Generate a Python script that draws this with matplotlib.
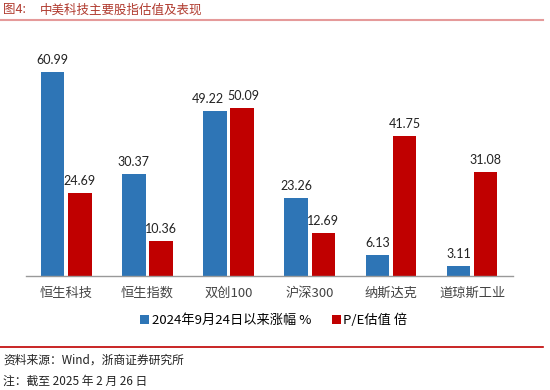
import matplotlib
matplotlib.use("Agg")
import matplotlib.pyplot as plt
import numpy as np
from matplotlib.lines import Line2D

plt.rcParams['font.family'] = ['Noto Sans CJK SC', 'DejaVu Sans']

categories = ['恒生科技', '恒生指数', '双创100', '沪深300', '纳斯达克', '道琼斯工业']
rise = [60.99, 30.37, 49.22, 23.26, 6.13, 3.11]
pe = [24.69, 10.36, 50.09, 12.69, 41.75, 31.08]
series_names = ['2024年9月24日以来涨幅 %', 'P/E估值 倍']

blue = '#2e75b6'
red = '#c00000'

fig = plt.figure(figsize=(5.5, 3.9), dpi=100)
ax = fig.add_axes([25.7/550, 114/390, 487/550, 234.5/390])

x = np.arange(len(categories))
w = 0.29
b1 = ax.bar(x - 0.167, rise, w, color=blue, label=series_names[0])
b2 = ax.bar(x + 0.167, pe, w, color=red, label=series_names[1])

for i, (b, v) in enumerate(zip(b1, rise)):
    # nudge left when the neighbouring label sits at nearly the same height
    dx = -0.09 if abs(v - pe[i]) < 4 else 0
    ax.text(b.get_x() + b.get_width()/2 + dx, v + 1.8, f'{v:.2f}',
            ha='center', va='bottom', fontsize=9, family=['Lato', 'DejaVu Sans'], color='#222222')
for i, (b, v) in enumerate(zip(b2, pe)):
    dx = 0.02 if abs(v - rise[i]) < 4 else 0
    ax.text(b.get_x() + b.get_width()/2 + dx, v + 1.8, f'{v:.2f}',
            ha='center', va='bottom', fontsize=9, family=['Lato', 'DejaVu Sans'], color='#222222')

ax.set_xlim(-0.5, 5.5)
ax.set_ylim(0, 70)
ax.set_yticks([])
ax.set_xticks(x)
ax.set_xticklabels(categories, fontsize=9.5, color='#444444')
ax.tick_params(axis='x', length=0, pad=8)
for s in ['top', 'right', 'left']:
    ax.spines[s].set_visible(False)
ax.spines['bottom'].set_color('#999999')
ax.spines['bottom'].set_linewidth(1)

leg = fig.legend(handles=[b1, b2], loc='center', bbox_to_anchor=(274/550, 1 - 320/390),
                 ncol=2, frameon=False, fontsize=9.5, handlelength=0.65, handleheight=0.65,
                 handletextpad=0.2, columnspacing=1.6, borderpad=0)

# title and decorations
fig.text(3/550, 1 - 10/390, '图4:', fontsize=9, color='#b03a2e', va='center')
fig.text(40/550, 1 - 10/390, '中美科技主要股指估值及表现', fontsize=9, color='#b03a2e', va='center')
fig.add_artist(Line2D([0, 543/550], [1 - 20/390, 1 - 20/390], color='#e59a9a', lw=1.5, transform=fig.transFigure))
fig.add_artist(Line2D([0, 543/550], [1 - 346.5/390, 1 - 346.5/390], color='#c00000', lw=1.2, transform=fig.transFigure))
fig.text(3/550, 1 - 360/390, '资料来源：Wind，浙商证券研究所', fontsize=8.5, color='#222222', va='center')
fig.text(3/550, 1 - 381/390, '注：截至 2025 年 2 月 26 日', fontsize=8.5, color='#222222', va='center')

fig.savefig('out.png', dpi=100)
